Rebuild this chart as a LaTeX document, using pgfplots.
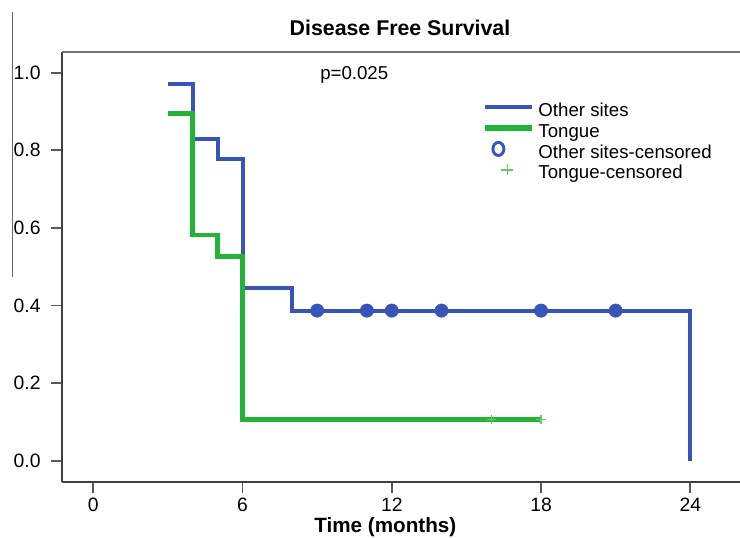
\documentclass[border=0pt]{standalone}
\usepackage{fontspec}
\setmainfont{Liberation Sans}
\usepackage{pgfplots}
\pgfplotsset{compat=1.18}
\definecolor{kmblue}{RGB}{55,85,185}
\definecolor{kmgreen}{RGB}{34,180,52}
\definecolor{kmlgreen}{RGB}{100,200,100}
\begin{document}
\begin{tikzpicture}[x=1pt,y=1pt]
\useasboundingbox (0,0) rectangle (555,403.5);
\draw[black!60, line width=1pt] (9.5,394.5) -- (9.5,195.75);
\begin{axis}[
  at={(46.5pt,41.625pt)}, anchor=south west,
  scale only axis, width=508.5pt, height=322.875pt,
  xmin=-1.258, xmax=26.0, ymin=-0.0559, ymax=1.0534,
  axis x line*=bottom, axis y line*=left,
  axis line style={line width=1.5pt, color=black!75},
  xtick={0,6,12,18,24}, ytick={0,0.2,0.4,0.6,0.8,1.0},
  tick align=outside, major tick length=8pt,
  tick style={line width=1.3pt, color=black!65},
  yticklabel style={/pgf/number format/fixed, /pgf/number format/fixed zerofill, /pgf/number format/precision=1, xshift=-4.5pt},
  /pgf/number format/assume math mode=true,
  tick label style={font=\fontsize{14.5}{16}\selectfont},
  clip=false,
  legend style={at={(axis cs:15.62,0.945)}, anchor=north west, draw=none, fill=none,
    inner sep=0pt, row sep=-3.85pt, column sep=2.25pt, font=\fontsize{14}{16}\selectfont,
    nodes={inner sep=0pt, text height=10pt, text depth=3pt}},
  legend cell align=left,
]
\addlegendimage{legend image code/.code={\path[draw=none] (0pt,-1pt) rectangle (35pt,13pt); \draw[kmblue, line width=3.2pt] (0pt,3.35pt) -- (35pt,3.35pt);}}
\addlegendentry{Other sites}
\addlegendimage{legend image code/.code={\path[draw=none] (0pt,-1pt) rectangle (35pt,13pt); \draw[kmgreen, line width=5pt] (0pt,3.35pt) -- (35pt,3.35pt);}}
\addlegendentry{Tongue}
\addlegendimage{legend image code/.code={\path[draw=none] (0pt,-1pt) rectangle (35pt,13pt); \draw[kmblue, line width=2.2pt] (9.75pt,3.35pt) ellipse (4.1pt and 4.9pt);}}
\addlegendentry{Other sites-censored}
\addlegendimage{legend image code/.code={\path[draw=none] (0pt,-1pt) rectangle (35pt,13pt); \draw[kmlgreen, line width=1.2pt] (16.5pt,-0.85pt) -- (16.5pt,7.55pt) (12pt,3.35pt) -- (21pt,3.35pt);}}
\addlegendentry{Tongue-censored}

\addplot[const plot, kmblue, line width=3pt, forget plot] coordinates {
(3,0.971) (4,0.829) (5,0.778) (6,0.444) (8,0.387) (24,0.387) (24,0)};
\addplot[only marks, mark=*, mark size=5pt, kmblue, forget plot] coordinates {
(9,0.387) (11,0.387) (12,0.387) (14,0.387) (18,0.387) (21,0.387)};
\addplot[const plot, kmgreen, line width=3.5pt, forget plot] coordinates {
(3,0.895) (4,0.582) (5,0.526) (6,0.107) (18,0.107)};
\addplot[only marks, mark=+, mark size=3.5pt, kmlgreen, line width=1pt, forget plot] coordinates {
(16,0.107) (18,0.107)};
\draw[black!55, line width=2pt] (rel axis cs:0,1) -- (rel axis cs:1,1);
\end{axis}
\node[anchor=base, font=\bfseries\fontsize{16}{18}\selectfont] at (300,376.5) {Disease Free Survival};
\node[anchor=base west, inner sep=0pt, font=\fontsize{14}{16}\selectfont] at (240,343.5) {p=0.025};
\node[anchor=base, inner sep=0pt, font=\bfseries\fontsize{15.5}{18}\selectfont] at (289,3.9) {Time (months)};
\end{tikzpicture}
\end{document}
